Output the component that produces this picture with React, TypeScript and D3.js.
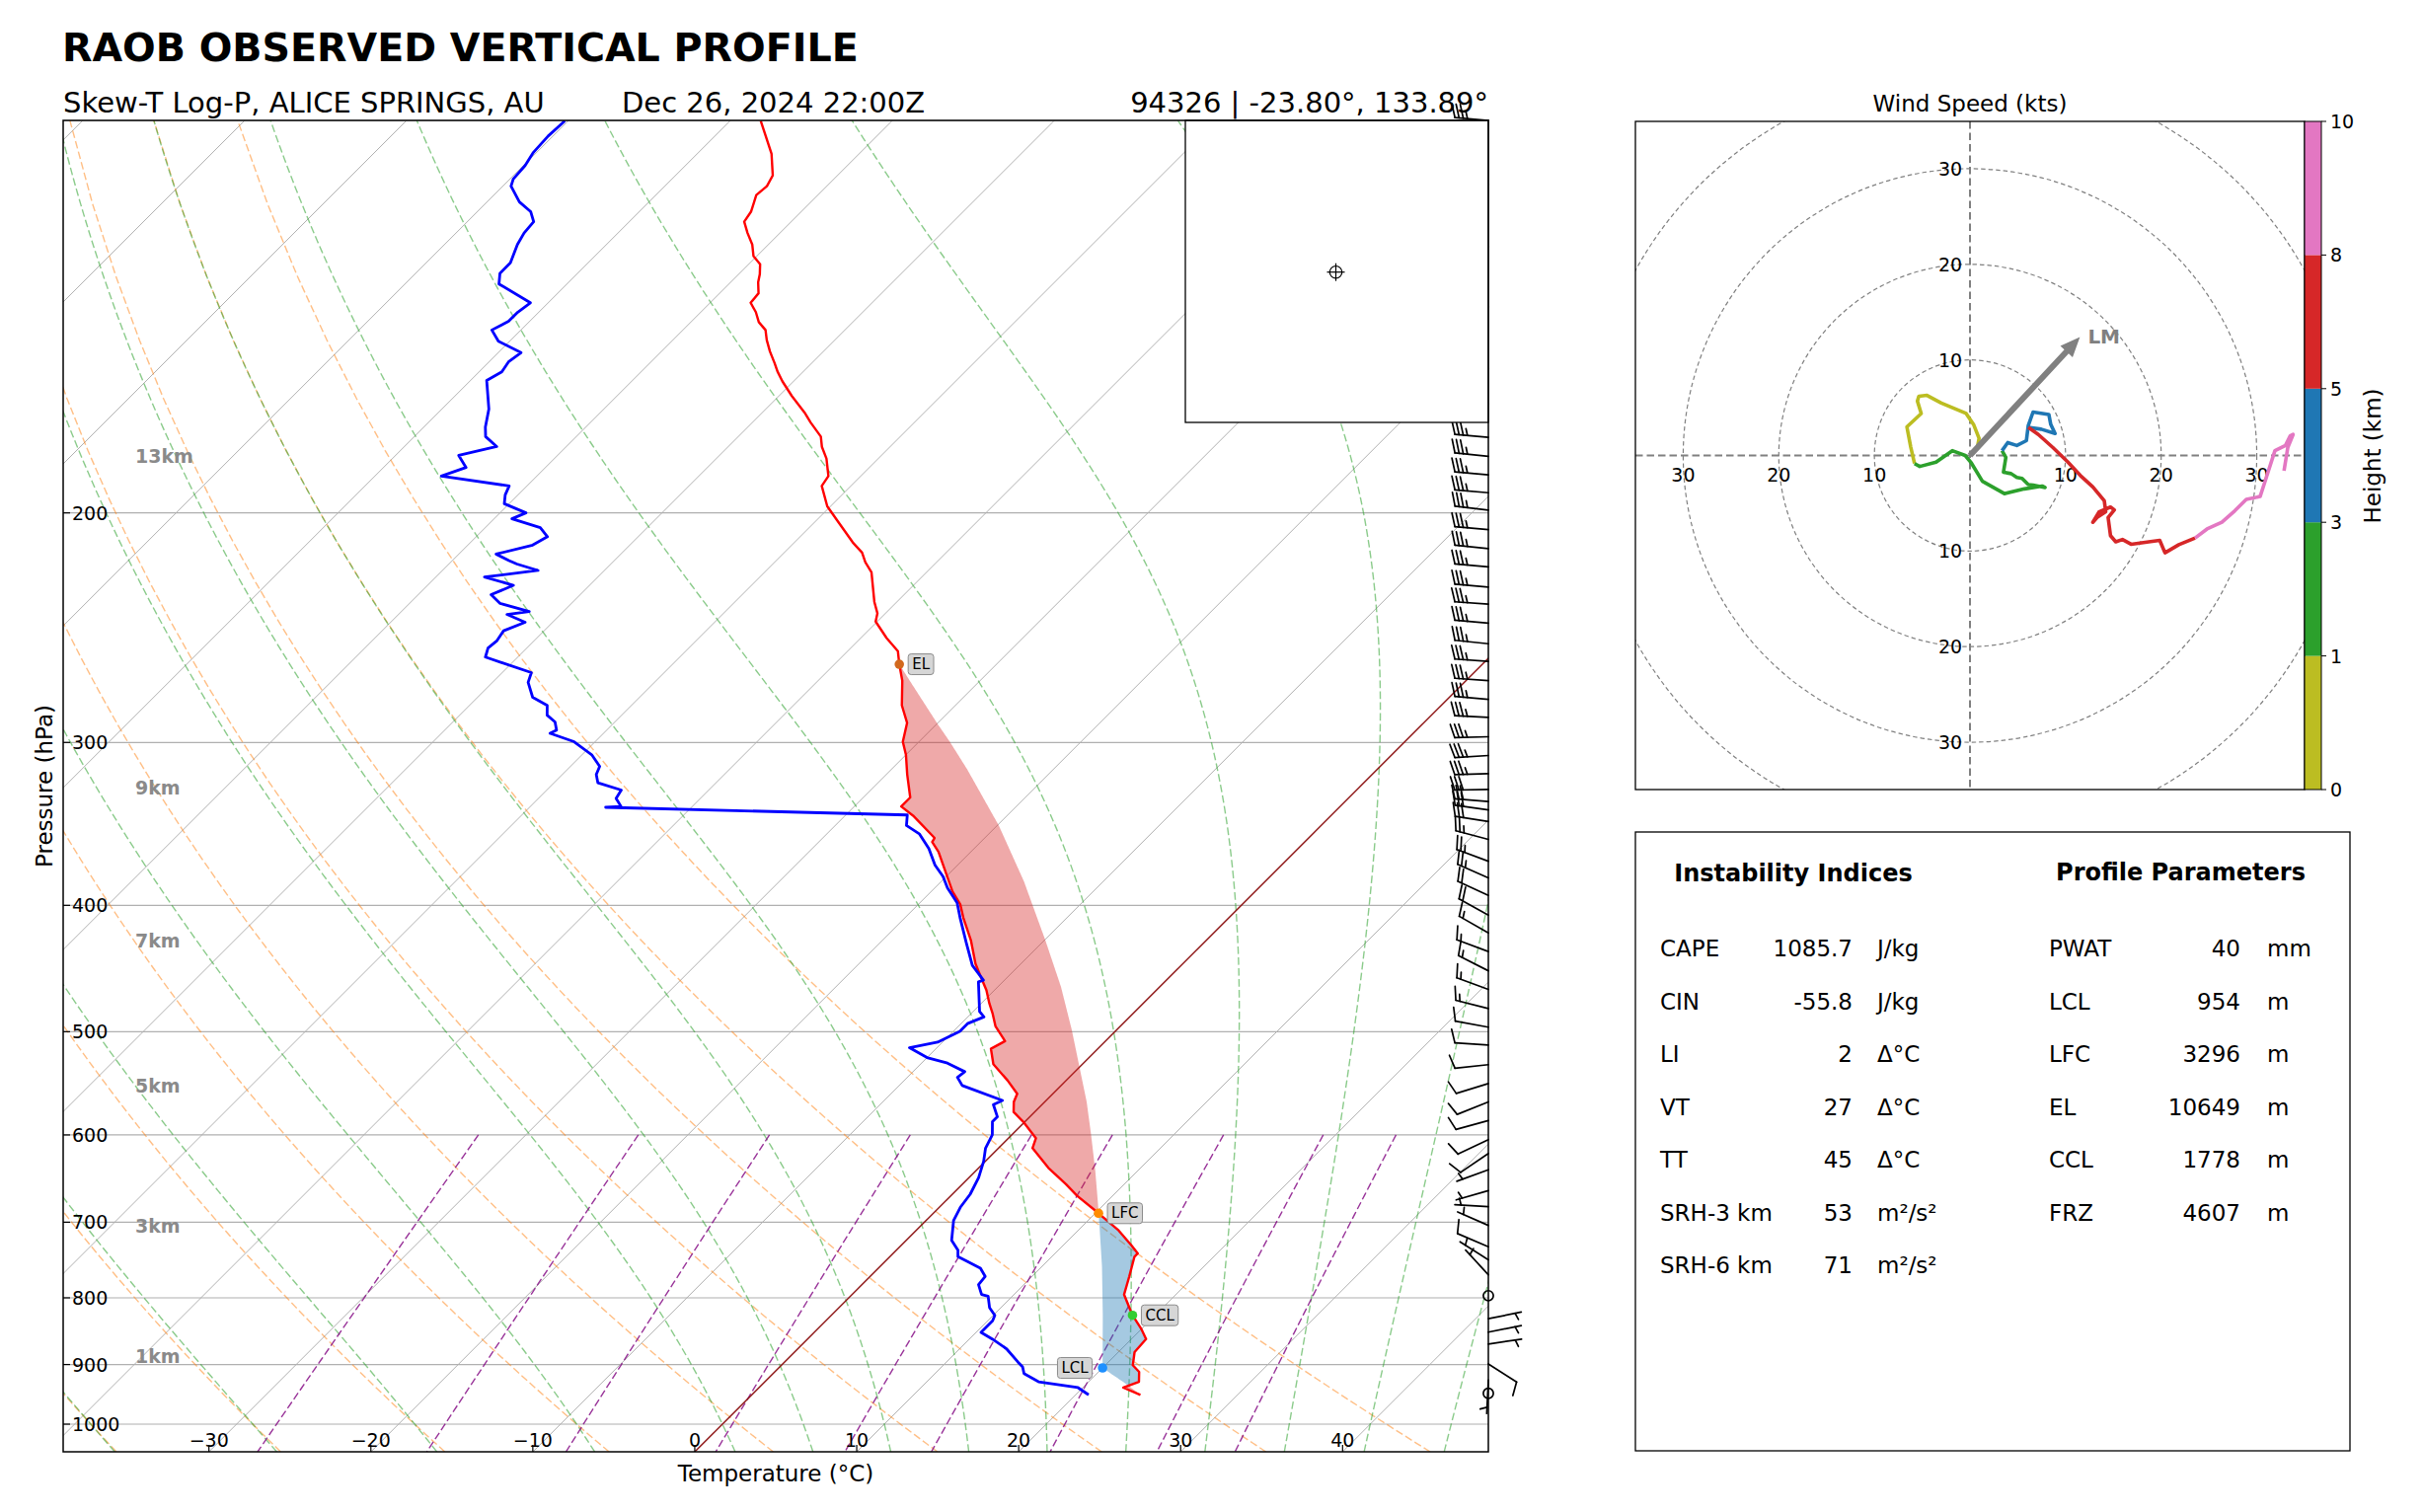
import React, { useEffect, useRef } from 'react';
import * as d3 from 'd3';

// ---- sounding: pressure (hPa), temperature (°C) ----
const tempP = [100.1, 102.5, 106.1, 110.2, 112.3, 114.1, 117.5, 119.6, 122.0, 124.5, 127.1, 128.9, 131.2, 133.1, 135.7, 138.0, 140.3, 142.8, 144.8, 147.4, 150.4, 153.5, 155.8, 158.5, 162.7, 167.5, 170.5, 174.8, 178.0, 181.7, 187.4, 190.7, 197.7, 202.4, 210.7, 214.5, 218.2, 222.1, 234.0, 238.8, 242.3, 249.5, 255.3, 261.3, 269.0, 281.0, 289.8, 299.6, 306.6, 317.5, 330.6, 335.9, 341.4, 355.1, 357.6, 363.9, 390.2, 399.4, 408.8, 425.8, 443.5, 452.6, 464.6, 475.6, 483.9, 495.3, 508.4, 515.3, 529.5, 545.1, 557.9, 566.1, 576.1, 586.2, 603.5, 614.1, 635.9, 654.6, 668.1, 689.0, 710.2, 729.0, 739.6, 743.9, 770.3, 795.4, 825.1, 845.4, 860.3, 880.5, 901.1, 911.7, 927.8, 937.5, 949.5];
const tempT = [-78.1, -77.0, -75.4, -74.0, -73.7, -73.8, -73.1, -72.9, -72.0, -71.0, -70.2, -69.3, -68.7, -68.3, -67.6, -67.5, -66.6, -65.8, -64.9, -64.2, -63.3, -62.3, -61.6, -60.7, -59.2, -57.4, -56.4, -54.9, -54.2, -53.2, -52.0, -51.8, -50.2, -48.8, -46.4, -45.2, -44.4, -43.4, -41.4, -40.5, -40.1, -38.4, -36.9, -36.0, -34.8, -33.3, -31.9, -31.0, -30.0, -28.7, -27.1, -27.1, -25.8, -23.1, -23.0, -22.0, -18.7, -17.4, -16.4, -14.5, -12.8, -11.8, -10.5, -9.5, -8.7, -7.7, -6.2, -6.6, -5.5, -3.6, -2.2, -1.9, -1.3, -0.1, 1.7, 2.1, 4.3, 6.4, 7.8, 10.2, 12.5, 14.2, 15.1, 15.1, 16.0, 16.8, 18.6, 20.0, 20.9, 21.0, 21.7, 22.5, 23.1, 22.5, 24.0];

const dewP = [100.1, 102.8, 105.8, 108.3, 110.9, 112.3, 115.5, 117.5, 119.6, 122.0, 124.5, 128.6, 131.0, 133.5, 138.0, 140.3, 142.6, 144.8, 147.7, 150.7, 153.2, 155.9, 158.3, 166.5, 171.9, 174.8, 177.9, 180.7, 184.6, 187.4, 190.7, 193.7, 196.8, 200.0, 202.1, 205.3, 208.6, 211.7, 215.1, 217.6, 218.9, 221.4, 224.0, 227.3, 231.1, 234.7, 238.1, 239.3, 242.6, 246.3, 250.6, 253.9, 258.0, 265.2, 269.8, 277.0, 281.0, 285.9, 289.3, 293.5, 295.2, 299.6, 306.6, 312.9, 317.5, 322.1, 326.3, 331.2, 335.9, 336.4, 341.0, 347.4, 352.5, 361.8, 372.5, 380.1, 388.0, 398.2, 408.8, 427.0, 444.7, 456.5, 457.9, 482.5, 487.1, 492.9, 499.6, 509.3, 514.3, 523.4, 528.5, 536.6, 542.0, 549.9, 564.5, 568.7, 581.1, 586.2, 599.9, 614.1, 628.6, 647.0, 666.2, 681.8, 697.9, 722.7, 735.4, 743.9, 750.4, 759.2, 770.3, 781.6, 795.4, 797.6, 814.0, 825.1, 833.1, 850.3, 860.3, 875.5, 895.9, 903.8, 914.5, 927.8, 937.5, 949.5];
const dewT = [-90.2, -90.3, -90.2, -89.9, -89.8, -89.5, -88.0, -86.7, -85.9, -85.8, -85.5, -84.8, -84.8, -84.2, -81.1, -81.3, -81.3, -81.8, -80.7, -78.6, -78.8, -78.6, -79.0, -77.1, -76.2, -75.6, -74.3, -76.1, -74.9, -75.9, -71.1, -70.8, -70.3, -68.4, -68.9, -66.6, -65.6, -66.0, -67.7, -66.5, -65.8, -64.1, -67.0, -64.7, -65.5, -64.4, -62.1, -63.3, -61.7, -62.5, -62.3, -62.4, -62.0, -58.2, -57.8, -56.6, -55.2, -54.6, -53.7, -53.1, -53.3, -51.3, -49.4, -48.2, -47.9, -47.3, -45.4, -45.2, -44.4, -45.3, -26.2, -25.6, -24.3, -22.8, -21.4, -20.2, -19.2, -17.7, -16.6, -14.7, -12.9, -11.3, -11.5, -9.6, -9.0, -9.6, -9.6, -10.3, -11.7, -10.0, -8.4, -6.8, -6.9, -6.1, -2.7, -3.0, -2.0, -2.0, -1.2, -0.8, -0.1, 0.6, 1.1, 1.3, 1.7, 2.8, 3.8, 4.2, 5.1, 6.3, 7.1, 7.2, 8.0, 8.5, 9.3, 10.1, 10.3, 10.3, 11.4, 12.9, 14.4, 15.0, 15.5, 16.9, 19.7, 20.8];

// surface parcel path (edge of the shaded areas)
const parcelP = [261.3, 270.6, 290.1, 299.6, 314.7, 347.4, 383.4, 425.8, 461.9, 498.1, 531.0, 566.1, 599.9, 639.6, 677.9, 689.0, 701.9, 756.9, 825.9, 905.4, 933.1, 949.5];
const parcelT = [-36.0, -34.0, -30.0, -28.1, -25.3, -19.9, -14.9, -9.9, -6.1, -2.8, -0.1, 2.6, 4.9, 7.4, 9.6, 10.2, 10.9, 13.7, 16.8, 20.0, 22.6, 24.0];

const levelNames = ['LCL', 'LFC', 'EL', 'CCL'];
const levelP = [905.4, 689.0, 261.3, 825.1];
const levelT = [20.0, 10.2, -36.0, 18.6];
const levelColors = ['#1e90ff', '#ff8c00', '#d2691e', '#32cd32'];

const heightLabels = ['1km', '3km', '5km', '7km', '9km', '13km'];
const heightLabelP = [887, 704, 550, 426, 325, 181];

const pressureTicks = [1000, 900, 800, 700, 600, 500, 400, 300, 200];
const tempTicks = [-30, -20, -10, 0, 10, 20, 30, 40];

const dryT0 = [-39, -29, -19, -9, 1, 11, 21, 31, 41];
const moistT0 = [-39, -29, -19, -9, 0, 5, 10, 15, 20, 25, 30, 35, 40, 45];
const mixingRatios = [0.0004, 0.001, 0.002, 0.004, 0.007, 0.01, 0.016, 0.024, 0.032];

// wind barbs: pressure (hPa), u / v (kt)
const barbP = [100, 112, 125, 139, 155, 165, 175, 181, 187, 193, 199, 206, 213, 220, 228, 235, 243, 252, 260, 269, 278, 287, 297, 307, 317, 326, 333, 338, 345, 356, 370, 381, 393, 407, 420, 434, 449, 464, 480, 496, 512, 530, 548, 566, 585, 605, 620, 638, 662, 681, 704, 731, 748, 768, 797, 830, 850, 868, 899, 925, 947];
const barbU = [34.5, 34.5, 34.0, 34.5, 34.5, 34.5, 34.5, 34.5, 34.0, 34.5, 34.5, 34.0, 34.5, 34.5, 34.0, 34.5, 34.5, 34.0, 34.5, 34.5, 34.0, 32.9, 33.3, 33.5, 33.0, 31.9, 31.0, 30.3, 28.9, 26.4, 23.5, 21.5, 19.5, 16.5, 14.8, 14.7, 13.3, 14.1, 12.9, 11.5, 10.2, 8.6, 7.2, 7.0, 8.8, 8.4, 6.6, 6.0, 4.5, 3.5, 4.3, 7.5, 5.5, 3.5, 0, -4.0, -5.0, -5.5, -7.0, 0.2, 0];
const barbV = [-3, -3, -3.5, -3, -3, -3, -3, -3.5, -3, -3, -4, -3, -3.5, -3, -3, -2.5, -3, -3.5, -2.5, -2.5, -3, -1.6, 0.9, 2.0, 1.0, 0.5, -2.5, -4.3, -4.6, -7.0, -8.7, -9.5, -9.0, -9.2, -8.5, -5.5, -6.8, -5.2, -3.3, -2.1, -0.7, 0.9, 2.2, 2.8, 2.4, 4.0, 4.5, 2.2, 1.3, -0.2, -1.9, -3.2, -3.5, -3.8, 0, -0.8, -1.0, -0.8, 4.5, 4.2, 0];

// hodograph: u, v (kt) and height (km)
const hodoU = [0.8, 0.95, 0.4, -0.4, -3.0, -4.5, -5.35, -5.5, -5.1, -6.6, -6.2, -5.8, -5.25, -3.55, -1.85, -0.5, 0.15, 1.3, 3.6, 5.7, 7.55, 7.85, 6.6, 6.1, 5.45, 4.9, 4.3, 3.5, 3.75, 3.35, 3.95, 4.9, 5.9, 6.1, 6.6, 8.25, 8.45, 8.9, 7.45, 6.1, 7.15, 8.65, 10.2, 11.55, 12.85, 14.05, 14.2, 13.3, 12.85, 13.5, 14.7, 15.1, 14.45, 14.7, 15.25, 15.95, 16.85, 18.7, 19.85, 20.4, 21.85, 23.55, 24.8, 26.35, 27.7, 28.9, 30.35, 30.95, 31.9, 33.0, 33.5, 33.8, 33.25, 32.85];
const hodoV = [1.0, 1.8, 3.2, 4.4, 5.5, 6.3, 6.2, 5.7, 4.4, 3.0, 0.9, -0.85, -1.15, -0.7, 0.5, 0.0, -0.8, -2.7, -4.0, -3.5, -3.2, -3.35, -3.1, -3.05, -2.4, -2.3, -1.9, -1.75, -0.2, 0.5, 1.35, 1.05, 1.55, 3.15, 4.55, 4.3, 3.25, 2.3, 2.75, 2.95, 2.2, 0.85, -0.65, -2.1, -3.3, -4.75, -5.9, -6.5, -7.0, -5.9, -5.4, -5.7, -6.5, -8.4, -9.05, -8.8, -9.3, -9.05, -8.9, -10.2, -9.35, -8.65, -7.7, -7.0, -5.8, -4.6, -4.3, -2.45, 0.5, 1.05, 2.05, 2.2, 0.85, -1.6];
const hodoZ = [0.55, 0.58, 0.62, 0.66, 0.7, 0.74, 0.78, 0.82, 0.86, 0.9, 0.95, 1.0, 1.1, 1.2, 1.35, 1.5, 1.6, 1.75, 1.9, 2.05, 2.15, 2.2, 2.3, 2.4, 2.5, 2.6, 2.7, 2.8, 2.9, 3.0, 3.2, 3.4, 3.6, 3.8, 4.0, 4.2, 4.4, 4.6, 4.8, 5.0, 5.15, 5.3, 5.45, 5.6, 5.75, 5.9, 6.0, 6.1, 6.2, 6.3, 6.4, 6.5, 6.6, 6.75, 6.9, 7.0, 7.1, 7.3, 7.45, 7.6, 7.8, 8.0, 8.2, 8.4, 8.6, 8.8, 9.0, 9.2, 9.4, 9.55, 9.7, 9.8, 9.9, 10.0];
const heightBounds = [0, 1, 3, 5, 8, 10];
const heightColors = ['#bcbd22', '#2ca02c', '#1f77b4', '#d62728', '#e377c2'];
const stormMotion = [11.5, 12.4]; // LM, kt
const hodoRings = [10, 20, 30, 40];
const hodoTicks = [-30, -20, -10, 10, 20, 30];

const instability = [
  ['CAPE', '1085.7', 'J/kg'],
  ['CIN', '-55.8', 'J/kg'],
  ['LI', '2', 'Δ°C'],
  ['VT', '27', 'Δ°C'],
  ['TT', '45', 'Δ°C'],
  ['SRH-3 km', '53', 'm²/s²'],
  ['SRH-6 km', '71', 'm²/s²'],
];
const profileParams = [
  ['PWAT', '40', 'mm'],
  ['LCL', '954', 'm'],
  ['LFC', '3296', 'm'],
  ['EL', '10649', 'm'],
  ['CCL', '1778', 'm'],
  ['FRZ', '4607', 'm'],
];

const FONT = 'DejaVu Sans, Verdana, sans-serif';
const Rd = 287.04749, Lv = 2.50084e6, Cpd = 1004.6662, eps = 0.621957;

function interpLogP(ps: number[], vs: number[], p: number) {
  if (p <= ps[0]) return vs[0];
  if (p >= ps[ps.length - 1]) return vs[vs.length - 1];
  const i = d3.bisectRight(ps, p);
  const a = Math.log(ps[i - 1]), b = Math.log(ps[i]);
  const t = (Math.log(p) - a) / (b - a);
  return vs[i - 1] + t * (vs[i] - vs[i - 1]);
}

// moist adiabat through (1000 hPa, t0) — same ODE as MetPy moist_lapse
function moistAdiabat(t0: number): [number, number][] {
  const f = (lnp: number, T: number) => {
    const p = Math.exp(lnp);
    const es = 6.112 * Math.exp((17.67 * (T - 273.15)) / (T - 29.65));
    const rs = (eps * es) / (p - es);
    return (Rd * T + Lv * rs) / (Cpd + (Lv * Lv * rs * eps) / (Rd * T * T));
  };
  const run = (pEnd: number, n: number) => {
    const out: [number, number][] = [];
    let lnp = Math.log(1000);
    let T = t0 + 273.15;
    const h = (Math.log(pEnd) - lnp) / n;
    for (let i = 0; i < n; i++) {
      const k1 = f(lnp, T);
      const k2 = f(lnp + h / 2, T + (h * k1) / 2);
      const k3 = f(lnp + h / 2, T + (h * k2) / 2);
      const k4 = f(lnp + h, T + h * k3);
      T += (h * (k1 + 2 * k2 + 2 * k3 + k4)) / 6;
      lnp += h;
      out.push([Math.exp(lnp), T - 273.15]);
    }
    return out;
  };
  return [...run(1050, 6).reverse(), [1000, t0], ...run(100, 140)];
}

function dewpointFromVapor(e: number) {
  const val = Math.log(e / 6.112);
  return (243.5 * val) / (17.67 - val);
}

const App: React.FC = () => {
  const ref = useRef<SVGSVGElement>(null);

  useEffect(() => {
    const svg = d3.select(ref.current);
    svg.selectAll('*').remove();
    svg.attr('font-family', FONT);

    // ---------------- Skew-T ----------------
    const left = 64, right = 1508, top = 122, bottom = 1471;
    const xT = d3.scaleLinear().domain([-39, 49]).range([left, right]);
    const yP = d3.scaleLog().domain([1050, 100]).range([bottom, top]);
    const X = (T: number, p: number) => xT(T) + (bottom - yP(p));
    const pline = d3
      .line<[number, number]>()
      .x((d) => X(d[1], d[0]))
      .y((d) => yP(d[0]));

    const defs = svg.append('defs');
    defs.append('clipPath').attr('id', 'skewClip').append('rect')
      .attr('x', left).attr('y', top).attr('width', right - left).attr('height', bottom - top);
    defs.append('clipPath').attr('id', 'hodoClip').append('rect')
      .attr('x', 1657).attr('y', 123).attr('width', 678).attr('height', 677);

    const g = svg.append('g').attr('clip-path', 'url(#skewClip)');

    // isotherms
    d3.range(-120, 51, 10).forEach((T) => {
      g.append('line')
        .attr('x1', X(T, 1050)).attr('y1', yP(1050))
        .attr('x2', X(T, 100)).attr('y2', yP(100))
        .attr('stroke', '#b0b0b0').attr('stroke-width', 1);
    });
    // isobars
    d3.range(100, 1001, 100).forEach((p) => {
      g.append('line')
        .attr('x1', left).attr('x2', right).attr('y1', yP(p)).attr('y2', yP(p))
        .attr('stroke', '#b0b0b0').attr('stroke-width', 1.2);
    });

    // dry adiabats
    const dryP = d3.range(0, 61).map((i) => 1050 - (i * 950) / 60);
    dryT0.forEach((t0) => {
      const pts = dryP.map((p) => [p, (t0 + 273.15) * Math.pow(p / 1000, Rd / Cpd) - 273.15] as [number, number]);
      g.append('path').attr('d', pline(pts)).attr('fill', 'none')
        .attr('stroke', '#ff7f0e').attr('stroke-opacity', 0.5).attr('stroke-width', 1.4)
        .attr('stroke-dasharray', '7.7 3.3');
    });
    // moist adiabats
    moistT0.forEach((t0) => {
      g.append('path').attr('d', pline(moistAdiabat(t0))).attr('fill', 'none')
        .attr('stroke', '#2ca02c').attr('stroke-opacity', 0.55).attr('stroke-width', 1.4)
        .attr('stroke-dasharray', '7.7 3.3');
    });
    // mixing ratio lines
    const mixP = d3.range(0, 21).map((i) => 600 + (i * 450) / 20);
    mixingRatios.forEach((w) => {
      const pts = mixP.map((p) => [p, dewpointFromVapor((p * w) / (eps + w))] as [number, number]);
      g.append('path').attr('d', pline(pts)).attr('fill', 'none')
        .attr('stroke', '#800080').attr('stroke-opacity', 0.8).attr('stroke-width', 1.4)
        .attr('stroke-dasharray', '7.7 3.3');
    });
    // 0 °C isotherm
    g.append('line')
      .attr('x1', X(0, 1050)).attr('y1', yP(1050)).attr('x2', X(0, 100)).attr('y2', yP(100))
      .attr('stroke', '#8b1010').attr('stroke-width', 1.4);

    // CAPE / CIN shading between parcel and environment
    const pTop = parcelP[0], pBot = parcelP[parcelP.length - 1];
    const N = 700;
    const grid = d3.range(N + 1).map((i) => Math.exp(Math.log(pBot) + ((Math.log(pTop) - Math.log(pBot)) * i) / N));
    const env = (p: number) => interpLogP(tempP, tempT, p);
    const par = (p: number) => interpLogP(parcelP, parcelT, p);
    g.append('path')
      .attr('d', d3.area<number>().y((p) => yP(p)).x0((p) => X(env(p), p)).x1((p) => X(Math.max(par(p), env(p)), p))(grid))
      .attr('fill', '#d62728').attr('fill-opacity', 0.4);
    g.append('path')
      .attr('d', d3.area<number>().y((p) => yP(p)).x0((p) => X(env(p), p)).x1((p) => X(Math.min(par(p), env(p)), p))(grid))
      .attr('fill', '#1f77b4').attr('fill-opacity', 0.4);

    // profiles
    g.append('path').attr('d', pline(tempP.map((p, i) => [p, tempT[i]] as [number, number])))
      .attr('fill', 'none').attr('stroke', '#ff0000').attr('stroke-width', 2.4).attr('stroke-linejoin', 'round');
    g.append('path').attr('d', pline(dewP.map((p, i) => [p, dewT[i]] as [number, number])))
      .attr('fill', 'none').attr('stroke', '#0000ff').attr('stroke-width', 2.8).attr('stroke-linejoin', 'round');

    // level markers + labels
    levelNames.forEach((name, i) => {
      const cx = X(levelT[i], levelP[i]);
      const cy = yP(levelP[i]);
      g.append('circle').attr('cx', cx).attr('cy', cy).attr('r', 4.8).attr('fill', levelColors[i]);
      const box = g.append('rect').attr('fill', '#d6d6d6').attr('stroke', '#8c8c8c')
        .attr('stroke-width', 1).attr('rx', 3);
      const txt = g.append('text').text(name).attr('font-size', 15).attr('dominant-baseline', 'central')
        .attr('y', cy);
      const tw = (txt.node() as SVGTextElement).getComputedTextLength();
      const bw = tw + 8;
      const bx = name === 'LCL' ? cx - 10.5 - bw : cx + 9;
      box.attr('x', bx).attr('y', cy - 10.5).attr('width', bw).attr('height', 21);
      txt.attr('x', bx + 4);
    });

    // height labels
    heightLabels.forEach((lab, i) => {
      g.append('text').text(lab).attr('x', 137).attr('y', yP(heightLabelP[i]))
        .attr('dominant-baseline', 'central').attr('font-size', 19).attr('font-weight', 'bold')
        .attr('fill', '#8a8a8a');
    });

    // wind barbs at the right edge
    const L = 34;
    const barbs = svg.append('g').attr('stroke', '#000').attr('stroke-width', 1.7)
      .attr('fill', 'none').attr('stroke-linecap', 'round');
    barbP.forEach((p, i) => {
      const bx = right, by = yP(p);
      const u = barbU[i], v = barbV[i];
      const spd = Math.round(Math.hypot(u, v) / 5) * 5;
      if (spd === 0) {
        barbs.append('circle').attr('cx', bx).attr('cy', by).attr('r', 0.15 * L);
        return;
      }
      let rem = spd;
      const nflags = Math.floor(rem / 50); rem -= nflags * 50;
      const nfull = Math.floor(rem / 10); rem -= nfull * 10;
      const half = rem >= 5;
      const hgt = 0.4 * L, wid = 0.25 * L, sp = 0.125 * L;
      const a = Math.atan2(v, u) + Math.PI / 2;
      const tr = (x: number, y: number) => [bx + x * Math.cos(a) - y * Math.sin(a), by - (x * Math.sin(a) + y * Math.cos(a))];
      const segs: number[][][] = [[tr(0, 0), tr(0, L)]];
      let off = L;
      for (let k = 0; k < nflags; k++) {
        const poly = [tr(0, off), tr(hgt, off - wid / 2), tr(0, off - wid)];
        barbs.append('path').attr('d', 'M' + poly.join('L') + 'Z').attr('fill', '#000');
        off -= wid + sp;
      }
      for (let k = 0; k < nfull; k++) {
        segs.push([tr(0, off), tr(hgt, off + wid / 2)]);
        off -= sp;
      }
      if (half) {
        if (off === L) off -= 1.5 * sp;
        segs.push([tr(0, off), tr(hgt / 2, off + wid / 4)]);
      }
      segs.forEach((s) => barbs.append('path').attr('d', 'M' + s.join('L')));
    });

    // inset box (hides upper barbs)
    svg.append('rect').attr('x', 1201).attr('y', top).attr('width', right - 1201).attr('height', 306)
      .attr('fill', '#fff').attr('stroke', '#000').attr('stroke-width', 1.3);
    const mk = svg.append('g').attr('stroke', '#000').attr('stroke-width', 1.2).attr('fill', 'none');
    mk.append('circle').attr('cx', 1353.5).attr('cy', 275.7).attr('r', 6.2);
    mk.append('line').attr('x1', 1344.5).attr('x2', 1362.5).attr('y1', 275.7).attr('y2', 275.7);
    mk.append('line').attr('x1', 1353.5).attr('x2', 1353.5).attr('y1', 266.7).attr('y2', 284.7);

    // frame
    svg.append('rect').attr('x', left).attr('y', top).attr('width', right - left).attr('height', bottom - top)
      .attr('fill', 'none').attr('stroke', '#000').attr('stroke-width', 1.5);

    // ticks + labels (drawn inside the frame)
    pressureTicks.forEach((p) => {
      svg.append('line').attr('x1', left).attr('x2', left + 7).attr('y1', yP(p)).attr('y2', yP(p))
        .attr('stroke', '#000').attr('stroke-width', 1.2);
      svg.append('text').text(p).attr('x', 73).attr('y', yP(p)).attr('font-size', 19)
        .attr('dominant-baseline', 'central');
    });
    tempTicks.forEach((t) => {
      svg.append('line').attr('x1', xT(t)).attr('x2', xT(t)).attr('y1', bottom).attr('y2', bottom - 7)
        .attr('stroke', '#000').attr('stroke-width', 1.2);
      svg.append('text').text(t < 0 ? '\u2212' + Math.abs(t) : String(t)).attr('x', xT(t)).attr('y', 1459)
        .attr('font-size', 19).attr('text-anchor', 'middle').attr('dominant-baseline', 'central');
    });
    svg.append('text').text('Temperature (°C)').attr('x', (left + right) / 2).attr('y', 1493)
      .attr('font-size', 23).attr('text-anchor', 'middle').attr('dominant-baseline', 'central');
    svg.append('text').text('Pressure (hPa)')
      .attr('transform', `translate(45,${(top + bottom) / 2}) rotate(-90)`)
      .attr('font-size', 23).attr('text-anchor', 'middle').attr('dominant-baseline', 'central');

    // titles
    svg.append('text').text('RAOB OBSERVED VERTICAL PROFILE').attr('x', 63).attr('y', 62)
      .attr('font-size', 39.6).attr('font-weight', 'bold');
    svg.append('text').text('Skew-T Log-P, ALICE SPRINGS, AU').attr('x', 64).attr('y', 114).attr('font-size', 29);
    svg.append('text').text('Dec 26, 2024 22:00Z').attr('x', 630).attr('y', 114).attr('font-size', 29);
    svg.append('text').text('94326 | -23.80°, 133.89°').attr('x', right).attr('y', 114)
      .attr('font-size', 29).attr('text-anchor', 'end');

    // ---------------- Hodograph ----------------
    const hx = d3.scaleLinear().domain([-35, 35]).range([1657, 2335]);
    const hy = d3.scaleLinear().domain([-35, 35]).range([800, 123]);
    const hg = svg.append('g').attr('clip-path', 'url(#hodoClip)');
    hodoRings.forEach((r) => {
      hg.append('circle').attr('cx', hx(0)).attr('cy', hy(0)).attr('r', hx(r) - hx(0))
        .attr('fill', 'none').attr('stroke', '#808080').attr('stroke-width', 1.2).attr('stroke-dasharray', '4.5 3');
    });
    hg.append('line').attr('x1', 1657).attr('x2', 2335).attr('y1', hy(0)).attr('y2', hy(0))
      .attr('stroke', '#808080').attr('stroke-width', 2).attr('stroke-dasharray', '7.5 4');
    hg.append('line').attr('y1', 123).attr('y2', 800).attr('x1', hx(0)).attr('x2', hx(0))
      .attr('stroke', '#808080').attr('stroke-width', 2).attr('stroke-dasharray', '7.5 4');
    hodoTicks.forEach((t) => {
      hg.append('text').text(Math.abs(t)).attr('x', hx(t)).attr('y', hy(0) + 19).attr('font-size', 19)
        .attr('text-anchor', 'middle').attr('dominant-baseline', 'central');
      hg.append('text').text(Math.abs(t)).attr('x', hx(0) - 20).attr('y', hy(t)).attr('font-size', 19)
        .attr('text-anchor', 'middle').attr('dominant-baseline', 'central');
    });

    // colour-coded trace
    const bandOf = (z: number) => {
      for (let b = 0; b < heightColors.length; b++) if (z <= heightBounds[b + 1]) return b;
      return heightColors.length - 1;
    };
    const hline = d3.line<[number, number]>().x((d) => hx(d[0])).y((d) => hy(d[1]));
    let cur = -1;
    let pts: [number, number][] = [];
    const flush = () => {
      if (pts.length > 1)
        hg.append('path').attr('d', hline(pts)).attr('fill', 'none').attr('stroke', heightColors[cur])
          .attr('stroke-width', 3.6).attr('stroke-linejoin', 'round');
    };
    for (let i = 0; i < hodoU.length - 1; i++) {
      const b = bandOf((hodoZ[i] + hodoZ[i + 1]) / 2);
      if (b !== cur) {
        flush();
        cur = b;
        pts = [[hodoU[i], hodoV[i]]];
      }
      pts.push([hodoU[i + 1], hodoV[i + 1]]);
    }
    flush();

    // storm motion arrow
    {
      const x0 = hx(0), y0 = hy(0), x1 = hx(stormMotion[0]), y1 = hy(stormMotion[1]);
      const len = Math.hypot(x1 - x0, y1 - y0);
      const ux = (x1 - x0) / len, uy = (y1 - y0) / len;
      const nx = -uy, ny = ux;
      const sw = 3, hw = 8.5, hl = 20;
      const P = (s: number, n: number) => [x0 + ux * s + nx * n, y0 + uy * s + ny * n];
      const poly = [P(0, sw), P(len - hl, sw), P(len - hl, hw), P(len, 0), P(len - hl, -hw), P(len - hl, -sw), P(0, -sw)];
      hg.append('path').attr('d', 'M' + poly.join('L') + 'Z').attr('fill', '#808080');
      hg.append('text').text('LM').attr('x', x1 + 8).attr('y', y1 - 1).attr('font-size', 20)
        .attr('font-weight', 'bold').attr('fill', '#808080').attr('dominant-baseline', 'central');
    }
    svg.append('rect').attr('x', 1657).attr('y', 123).attr('width', 678).attr('height', 677)
      .attr('fill', 'none').attr('stroke', '#000').attr('stroke-width', 1.3);
    svg.append('text').text('Wind Speed (kts)').attr('x', hx(0)).attr('y', 113).attr('font-size', 23)
      .attr('text-anchor', 'middle');

    // colourbar
    const cbX = 2335, cbW = 17, segH = 677 / heightColors.length;
    heightColors.forEach((c, i) => {
      svg.append('rect').attr('x', cbX).attr('y', 800 - (i + 1) * segH).attr('width', cbW).attr('height', segH)
        .attr('fill', c);
    });
    svg.append('rect').attr('x', cbX).attr('y', 123).attr('width', cbW).attr('height', 677)
      .attr('fill', 'none').attr('stroke', '#000').attr('stroke-width', 1);
    heightBounds.forEach((h, i) => {
      const y = 800 - i * segH;
      svg.append('line').attr('x1', cbX + cbW).attr('x2', cbX + cbW + 5).attr('y1', y).attr('y2', y)
        .attr('stroke', '#000').attr('stroke-width', 1);
      svg.append('text').text(h).attr('x', cbX + cbW + 9).attr('y', y).attr('font-size', 19)
        .attr('dominant-baseline', 'central');
    });
    svg.append('text').text('Height (km)').attr('transform', 'translate(2404,462) rotate(-90)')
      .attr('font-size', 23).attr('text-anchor', 'middle').attr('dominant-baseline', 'central');

    // ---------------- Parameter table ----------------
    svg.append('rect').attr('x', 1657).attr('y', 843).attr('width', 724).attr('height', 627)
      .attr('fill', 'none').attr('stroke', '#000').attr('stroke-width', 1.3);
    svg.append('text').text('Instability Indices').attr('x', 1817).attr('y', 885).attr('font-size', 24)
      .attr('font-weight', 'bold').attr('text-anchor', 'middle').attr('dominant-baseline', 'central');
    svg.append('text').text('Profile Parameters').attr('x', 2209.5).attr('y', 884).attr('font-size', 24)
      .attr('font-weight', 'bold').attr('text-anchor', 'middle').attr('dominant-baseline', 'central');
    const rowY = (i: number) => 961 + i * 53.5;
    const cols = [
      { rows: instability, lx: 1682, vx: 1877, ux: 1902 },
      { rows: profileParams, lx: 2076, vx: 2270, ux: 2297 },
    ];
    cols.forEach((c) => {
      c.rows.forEach((r, i) => {
        svg.append('text').text(r[0]).attr('x', c.lx).attr('y', rowY(i)).attr('font-size', 23)
          .attr('dominant-baseline', 'central');
        svg.append('text').text(r[1]).attr('x', c.vx).attr('y', rowY(i)).attr('font-size', 23)
          .attr('text-anchor', 'end').attr('dominant-baseline', 'central');
        svg.append('text').text(r[2]).attr('x', c.ux).attr('y', rowY(i)).attr('font-size', 23)
          .attr('dominant-baseline', 'central');
      });
    });

    return () => {
      svg.selectAll('*').remove();
    };
  }, []);

  return (
    <svg
      ref={ref}
      width={2455}
      height={1532}
      viewBox="0 0 2455 1532"
      style={{ position: 'absolute', left: 0, top: 0, background: '#fff' }}
    />
  );
};

export default App;
